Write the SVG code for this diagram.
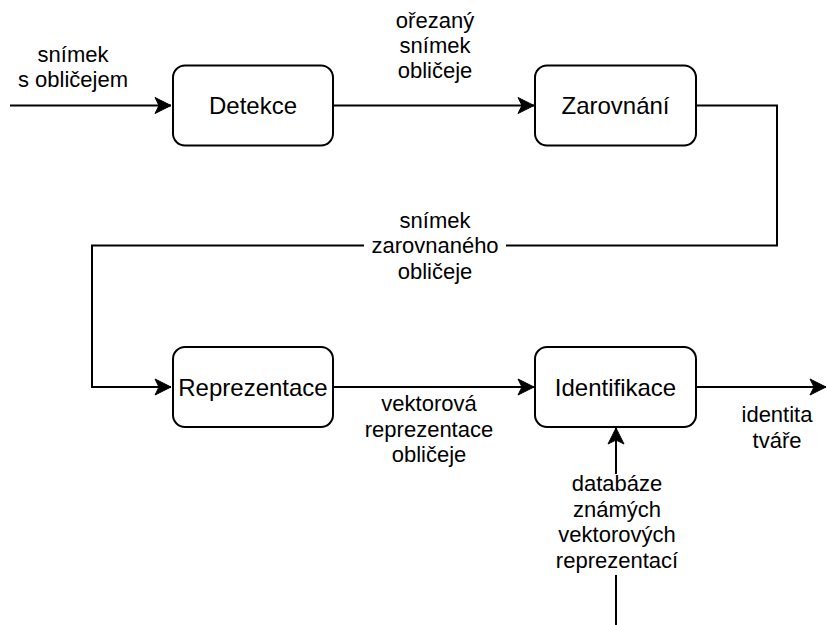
<svg xmlns="http://www.w3.org/2000/svg" width="827" height="625" viewBox="0 0 827 625">
  <style>
    .box { fill: #ffffff; stroke: #000000; stroke-width: 2; }
    .node { font-family: "Liberation Sans", Arial, Helvetica, sans-serif; font-size: 24px; fill: #000000; text-anchor: middle; }
    .lbl { font-family: "Liberation Sans", Arial, Helvetica, sans-serif; font-size: 22px; fill: #000000; text-anchor: middle; }
    .edge { fill: none; stroke: #000000; stroke-width: 2; }
  </style>
  <defs>
    <marker id="arrow" markerUnits="userSpaceOnUse" markerWidth="20" markerHeight="20" viewBox="-18 -10 20 20" refX="0" refY="0" orient="auto">
      <path d="M0,0 L-16,-8 L-12,0 L-16,8 Z" fill="#000000" stroke="#000000" stroke-width="1"/>
    </marker>
  </defs>
  <rect width="827" height="625" fill="#ffffff"/>

  <g id="connectors">
    <path id="e-input" class="edge" d="M10,105.5 L171,105.5" marker-end="url(#arrow)"/>
    <path id="e-det-zar" class="edge" d="M334,105.5 L534,105.5" marker-end="url(#arrow)"/>
    <path id="e-zar-rep" class="edge" d="M697,105.5 L777,105.5 L777,245.5 L92,245.5 L92,387 L171,387" marker-end="url(#arrow)"/>
    <path id="e-rep-ide" class="edge" d="M334,387 L534,387" marker-end="url(#arrow)"/>
    <path id="e-ide-out" class="edge" d="M697,387 L826,387" marker-end="url(#arrow)"/>
    <path id="e-db-ide" class="edge" d="M616,625 L616,428" marker-end="url(#arrow)"/>

    <g id="lbl-input">
      <text class="lbl" x="73" y="62">snímek</text>
      <text class="lbl" x="73" y="87">s obličejem</text>
    </g>
    <g id="lbl-cropped">
      <text class="lbl" x="435" y="28">ořezaný</text>
      <text class="lbl" x="435" y="53">snímek</text>
      <text class="lbl" x="435" y="78">obličeje</text>
    </g>
    <g id="lbl-aligned">
      <rect x="364" y="206" width="142" height="78" fill="#ffffff"/>
      <text class="lbl" x="435" y="228">snímek</text>
      <text class="lbl" x="435" y="253">zarovnaného</text>
      <text class="lbl" x="435" y="279">obličeje</text>
    </g>
    <g id="lbl-vector">
      <text class="lbl" x="429" y="411">vektorová</text>
      <text class="lbl" x="429" y="436.5">reprezentace</text>
      <text class="lbl" x="429" y="462">obličeje</text>
    </g>
    <g id="lbl-identity">
      <text class="lbl" x="777" y="422">identita</text>
      <text class="lbl" x="777" y="448">tváře</text>
    </g>
    <g id="lbl-db">
      <rect x="557" y="474" width="120" height="101" fill="#ffffff"/>
      <text class="lbl" x="617" y="491">databáze</text>
      <text class="lbl" x="617" y="516.5">známých</text>
      <text class="lbl" x="617" y="542">vektorových</text>
      <text class="lbl" x="617" y="567.5">reprezentací</text>
    </g>
  </g>

  <g id="node-detekce">
    <rect class="box" x="173" y="65.5" width="160" height="80" rx="12" ry="12"/>
    <text class="node" x="253" y="114">Detekce</text>
  </g>
  <g id="node-zarovnani">
    <rect class="box" x="535" y="65.5" width="161" height="80" rx="12" ry="12"/>
    <text class="node" x="615.5" y="114">Zarovnání</text>
  </g>
  <g id="node-reprezentace">
    <rect class="box" x="173" y="347" width="160" height="80" rx="12" ry="12"/>
    <text class="node" x="253" y="395.5">Reprezentace</text>
  </g>
  <g id="node-identifikace">
    <rect class="box" x="535" y="347" width="161" height="80" rx="12" ry="12"/>
    <text class="node" x="615.5" y="395.5">Identifikace</text>
  </g>
</svg>
